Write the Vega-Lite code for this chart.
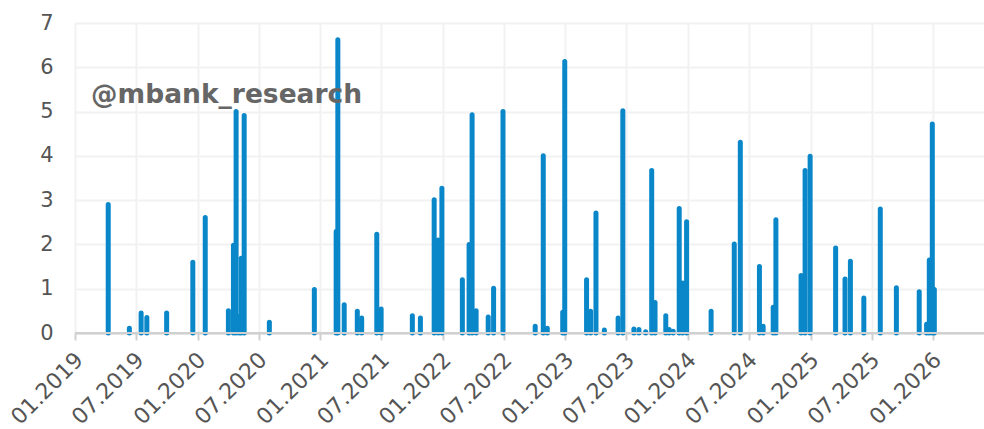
{
  "$schema": "https://vega.github.io/schema/vega-lite/v6.json",
  "width": 909,
  "height": 310,
  "autosize": {"type": "none"},
  "padding": {"left": 75, "top": 23, "right": 0, "bottom": 96},
  "background": "white",
  "config": {"view": {"stroke": null}, "font": "DejaVu Sans"},
  "layer": [
    {
      "data": {"values": [
        {"date": "2019-04-10", "value": 2.90},
        {"date": "2019-06-12", "value": 0.11},
        {"date": "2019-07-17", "value": 0.45},
        {"date": "2019-08-03", "value": 0.35},
        {"date": "2019-10-01", "value": 0.45},
        {"date": "2019-12-18", "value": 1.60},
        {"date": "2020-01-24", "value": 2.61},
        {"date": "2020-04-02", "value": 0.50},
        {"date": "2020-04-17", "value": 1.98},
        {"date": "2020-04-25", "value": 5.00},
        {"date": "2020-05-04", "value": 0.37},
        {"date": "2020-05-10", "value": 1.69},
        {"date": "2020-05-19", "value": 4.91},
        {"date": "2020-08-02", "value": 0.24},
        {"date": "2020-12-14", "value": 0.98},
        {"date": "2021-02-17", "value": 2.29},
        {"date": "2021-02-22", "value": 6.62},
        {"date": "2021-03-13", "value": 0.64},
        {"date": "2021-04-21", "value": 0.49},
        {"date": "2021-05-04", "value": 0.34},
        {"date": "2021-06-18", "value": 2.23},
        {"date": "2021-07-01", "value": 0.54},
        {"date": "2021-10-02", "value": 0.39},
        {"date": "2021-10-26", "value": 0.34},
        {"date": "2021-12-06", "value": 3.01},
        {"date": "2021-12-18", "value": 2.10},
        {"date": "2021-12-29", "value": 3.27},
        {"date": "2022-02-28", "value": 1.20},
        {"date": "2022-03-20", "value": 2.00},
        {"date": "2022-03-29", "value": 4.93},
        {"date": "2022-04-10", "value": 0.50},
        {"date": "2022-05-16", "value": 0.36},
        {"date": "2022-06-01", "value": 1.01},
        {"date": "2022-06-29", "value": 5.00},
        {"date": "2022-10-03", "value": 0.15},
        {"date": "2022-10-27", "value": 4.00},
        {"date": "2022-11-08", "value": 0.11},
        {"date": "2022-12-24", "value": 0.47},
        {"date": "2022-12-30", "value": 6.13},
        {"date": "2023-03-05", "value": 1.20},
        {"date": "2023-03-17", "value": 0.49},
        {"date": "2023-04-02", "value": 2.71},
        {"date": "2023-04-27", "value": 0.07},
        {"date": "2023-06-07", "value": 0.34},
        {"date": "2023-06-21", "value": 5.02},
        {"date": "2023-07-24", "value": 0.09},
        {"date": "2023-08-08", "value": 0.08},
        {"date": "2023-08-28", "value": 0.03},
        {"date": "2023-09-15", "value": 3.67},
        {"date": "2023-09-25", "value": 0.69},
        {"date": "2023-10-27", "value": 0.39},
        {"date": "2023-11-06", "value": 0.08},
        {"date": "2023-11-18", "value": 0.04},
        {"date": "2023-12-06", "value": 2.81},
        {"date": "2023-12-16", "value": 1.13},
        {"date": "2023-12-28", "value": 2.51},
        {"date": "2024-03-10", "value": 0.49},
        {"date": "2024-05-18", "value": 2.01},
        {"date": "2024-06-05", "value": 4.31},
        {"date": "2024-08-01", "value": 1.50},
        {"date": "2024-08-12", "value": 0.15},
        {"date": "2024-09-11", "value": 0.58},
        {"date": "2024-09-19", "value": 2.56},
        {"date": "2024-12-03", "value": 1.30},
        {"date": "2024-12-15", "value": 3.67},
        {"date": "2024-12-30", "value": 3.99},
        {"date": "2025-03-16", "value": 1.92},
        {"date": "2025-04-13", "value": 1.22},
        {"date": "2025-04-29", "value": 1.62},
        {"date": "2025-06-08", "value": 0.79},
        {"date": "2025-07-27", "value": 2.80},
        {"date": "2025-09-13", "value": 1.02},
        {"date": "2025-11-20", "value": 0.93},
        {"date": "2025-12-12", "value": 0.20},
        {"date": "2025-12-20", "value": 1.65},
        {"date": "2025-12-29", "value": 4.72},
        {"date": "2026-01-04", "value": 0.98}
      ]},
      "mark": {"type": "rule", "strokeWidth": 5, "strokeCap": "round", "color": "#0a87c9"},
      "encoding": {
        "x": {
          "field": "date", "type": "temporal",
          "scale": {"type": "utc", "domain": [{"year": 2019, "month": 1, "date": 1, "utc": true}, {"year": 2026, "month": 6, "date": 1, "utc": true}]},
          "axis": {
            "title": null,
            "values": [
              {"year": 2019, "month": 1, "date": 1, "utc": true},
              {"year": 2019, "month": 7, "date": 1, "utc": true},
              {"year": 2020, "month": 1, "date": 1, "utc": true},
              {"year": 2020, "month": 7, "date": 1, "utc": true},
              {"year": 2021, "month": 1, "date": 1, "utc": true},
              {"year": 2021, "month": 7, "date": 1, "utc": true},
              {"year": 2022, "month": 1, "date": 1, "utc": true},
              {"year": 2022, "month": 7, "date": 1, "utc": true},
              {"year": 2023, "month": 1, "date": 1, "utc": true},
              {"year": 2023, "month": 7, "date": 1, "utc": true},
              {"year": 2024, "month": 1, "date": 1, "utc": true},
              {"year": 2024, "month": 7, "date": 1, "utc": true},
              {"year": 2025, "month": 1, "date": 1, "utc": true},
              {"year": 2025, "month": 7, "date": 1, "utc": true},
              {"year": 2026, "month": 1, "date": 1, "utc": true}
            ],
            "labelExpr": "utcFormat(datum.value, '%m.%Y')",
            "labelAngle": -45, "labelAlign": "right", "labelBaseline": "middle",
            "labelFontSize": 22, "labelColor": "#555555", "labelPadding": 16, "labelOffset": 4,
            "labelOverlap": false, "labelFlush": false,
            "domainColor": "#d0d0d0", "domainWidth": 2,
            "tickColor": "#d0d0d0", "tickWidth": 2, "tickSize": 7,
            "gridColor": "#f2f2f2", "gridWidth": 2
          }
        },
        "y": {
          "field": "value", "type": "quantitative",
          "scale": {"domain": [0, 7], "nice": false},
          "axis": {
            "title": null, "values": [0, 1, 2, 3, 4, 5, 6, 7],
            "domain": false, "ticks": false,
            "labelFontSize": 21, "labelColor": "#555555", "labelPadding": 22,
            "gridColor": "#f2f2f2", "gridWidth": 2
          }
        },
        "y2": {"datum": 0}
      }
    },
    {
      "data": {"values": [{}]},
      "mark": {"type": "rule", "color": "#d0d0d0", "strokeWidth": 2},
      "encoding": {"y": {"datum": 0, "type": "quantitative"}}
    },
    {
      "data": {"values": [{}]},
      "mark": {"type": "text", "align": "left", "baseline": "alphabetic", "fontSize": 26.5, "fontWeight": "bold", "color": "#666666"},
      "encoding": {
        "x": {"datum": {"year": 2019, "month": 2, "date": 18, "utc": true}, "type": "temporal"},
        "y": {"datum": 5.2, "type": "quantitative"},
        "text": {"value": "@mbank_research"}
      }
    }
  ]
}
